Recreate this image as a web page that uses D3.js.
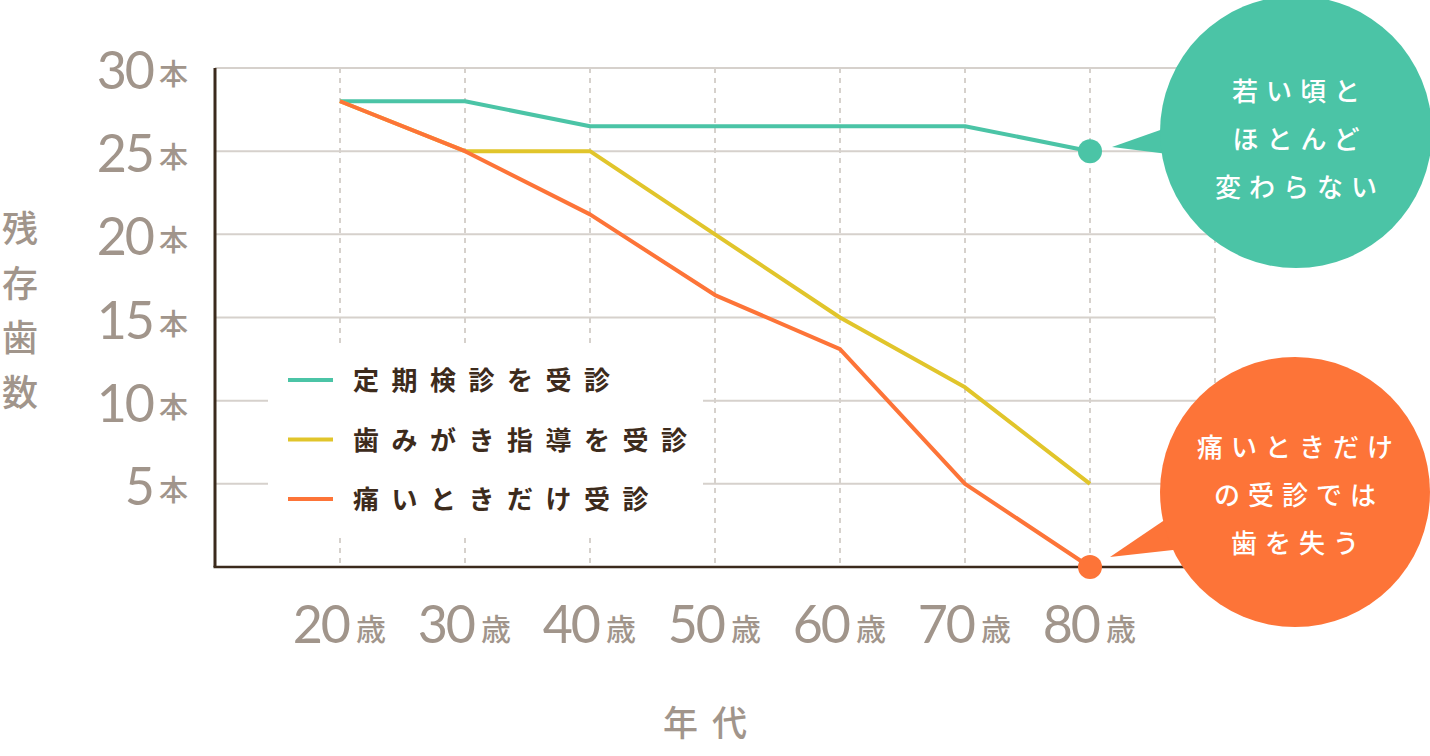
<!DOCTYPE html>
<html><head><meta charset="utf-8">
<script src="https://cdn.jsdelivr.net/npm/d3@7"></script>
<style>
html,body{margin:0;padding:0;background:#fff;}
svg{display:block;}
</style></head>
<body>
<svg id="c" width="1430" height="756"></svg>
<script>
const ages = [20, 30, 40, 50, 60, 70, 80];
const yTicks = [5, 10, 15, 20, 25, 30];
const seriesNames = ["定期検診を受診", "歯みがき指導を受診", "痛いときだけ受診"];
const regular = [28, 28, 26.5, 26.5, 26.5, 26.5, 25];
const brushing = [28, 25, 25, 20, 15, 10.8, 5];
const painOnly = [28, 25, 21.2, 16.35, 13.1, 5, 0];
const colors = ["#4bc4a6", "#e1c52b", "#fd7438"];
const bubbleGreen = ["若い頃と", "ほとんど", "変わらない"];
const bubbleOrange = ["痛いときだけ", "の受診では", "歯を失う"];
const yTitle = ["残", "存", "歯", "数"];
const xTitle = "年代";

const svg = d3.select("#c");
const x = d3.scaleLinear().domain([10, 90]).range([215, 1215]);
const y = d3.scaleLinear().domain([0, 30]).range([567, 68]);
const grey = "#a1958b";
const gridC = "#d6d1cc";
const numFont = "Lato, 'Open Sans', sans-serif";
const jp = "'Noto Sans CJK JP', sans-serif";

// horizontal gridlines
svg.append("g").selectAll("line").data(yTicks).join("line")
  .attr("x1", x(10)).attr("x2", x(90))
  .attr("y1", d => y(d)).attr("y2", d => y(d))
  .attr("stroke", gridC).attr("stroke-width", 2);

// vertical dashed gridlines
svg.append("g").selectAll("line").data(ages.concat([90])).join("line")
  .attr("x1", d => x(d)).attr("x2", d => x(d))
  .attr("y1", y(30)).attr("y2", y(0))
  .attr("stroke", gridC).attr("stroke-width", 2)
  .attr("stroke-dasharray", "5,5");

// legend background
svg.append("rect").attr("x", 268).attr("y", 345).attr("width", 435).attr("height", 188).attr("fill", "#fff");

// axes lines
svg.append("line").attr("x1", x(10)).attr("x2", x(10)).attr("y1", y(30)).attr("y2", y(0))
  .attr("stroke", "#3b2a1c").attr("stroke-width", 3);
svg.append("line").attr("x1", x(10) - 1.5).attr("x2", x(90)).attr("y1", y(0)).attr("y2", y(0))
  .attr("stroke", "#3b2a1c").attr("stroke-width", 2.5);

// y tick labels
const yl = svg.append("g").selectAll("g").data(yTicks).join("g");
yl.append("text").attr("x", 153).attr("y", d => y(d) + 21)
  .attr("text-anchor", "end").attr("font-family", numFont).attr("font-weight", 400)
  .attr("font-size", 52).attr("letter-spacing", -2).attr("fill", grey).text(d => d);
yl.append("text").attr("x", 159).attr("y", d => y(d) + 17)
  .attr("font-family", jp).attr("font-weight", 500)
  .attr("font-size", 29).attr("fill", grey).text("本");

// x tick labels
const xl = svg.append("g").selectAll("g").data(ages).join("g");
xl.append("text").attr("x", d => x(d) + 9).attr("y", 643)
  .attr("text-anchor", "end").attr("font-family", numFont).attr("font-weight", 400)
  .attr("font-size", 52).attr("letter-spacing", -2).attr("fill", grey).text(d => d);
xl.append("text").attr("x", d => x(d) + 16).attr("y", 640)
  .attr("font-family", jp).attr("font-weight", 500)
  .attr("font-size", 30).attr("fill", grey).text("歳");

// axis titles
svg.append("text").attr("x", 712).attr("y", 736).attr("text-anchor", "middle")
  .attr("font-family", jp).attr("font-weight", 500).attr("font-size", 35)
  .attr("letter-spacing", 14).attr("fill", grey).text(xTitle);
svg.append("g").selectAll("text").data(yTitle).join("text")
  .attr("x", 20).attr("y", (d, i) => 242 + i * 54.5).attr("text-anchor", "middle")
  .attr("font-family", jp).attr("font-weight", 500).attr("font-size", 36)
  .attr("fill", grey).text(d => d);

// lines
const line = d3.line().x((d, i) => x(ages[i])).y(d => y(d));
[regular, brushing, painOnly].forEach((s, k) => {
  svg.append("path").datum(s).attr("d", line).attr("fill", "none")
    .attr("stroke", colors[k]).attr("stroke-width", 4).attr("stroke-linejoin", "round");
});

// end dots
svg.append("circle").attr("cx", x(80)).attr("cy", y(regular[6])).attr("r", 12).attr("fill", colors[0]);
svg.append("circle").attr("cx", x(80)).attr("cy", y(painOnly[6])).attr("r", 12).attr("fill", colors[2]);

// legend
const lg = svg.append("g").selectAll("g").data(seriesNames).join("g")
  .attr("transform", (d, i) => `translate(0,${380 + i * 59.5})`);
lg.append("line").attr("x1", 288).attr("x2", 333).attr("y1", 0).attr("y2", 0)
  .attr("stroke", (d, i) => colors[i]).attr("stroke-width", 4);
lg.append("text").attr("x", 353).attr("y", 10)
  .attr("font-family", jp).attr("font-weight", 700).attr("font-size", 26)
  .attr("letter-spacing", 12.5).attr("fill", "#3d2b1c").text(d => d);

// bubbles
function bubble(cx, cy, r, tip, b1, b2, col, lines, ly) {
  const g = svg.append("g");
  g.append("path").attr("d", `M${tip[0]},${tip[1]}L${b1[0]},${b1[1]}L${b2[0]},${b2[1]}Z`).attr("fill", col);
  g.append("circle").attr("cx", cx).attr("cy", cy).attr("r", r).attr("fill", col);
  g.selectAll("text").data(lines).join("text")
    .attr("x", cx + 4).attr("y", (d, i) => ly + i * 48).attr("text-anchor", "middle")
    .attr("font-family", jp).attr("font-weight", 500).attr("font-size", 26)
    .attr("letter-spacing", 8).attr("fill", "#fff").text(d => d);
}
bubble(1296, 132, 136, [1112, 147], [1200, 116], [1200, 158], colors[0], bubbleGreen, 101);
bubble(1295, 492, 135, [1110, 557], [1200, 496], [1200, 547], colors[2], bubbleOrange, 457);
</script>
</body></html>
